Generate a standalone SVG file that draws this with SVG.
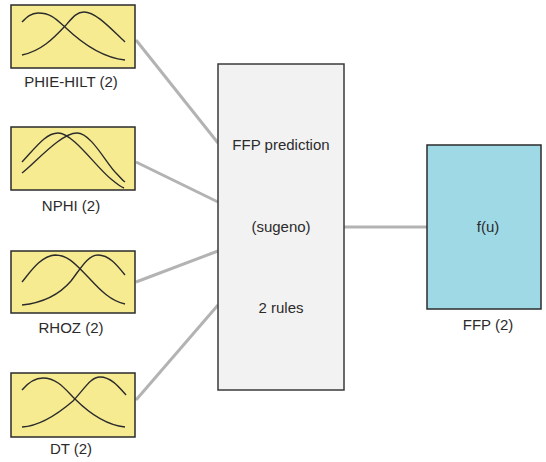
<svg xmlns="http://www.w3.org/2000/svg" width="546" height="462" viewBox="0 0 546 462">
<style>
.in{fill:#f7eb92;stroke:#2b2b2b;stroke-width:1.5}
.mf{fill:none;stroke:#2b2b2b;stroke-width:1.4}
.t{font-family:"Liberation Sans",Arial,sans-serif;font-size:15px;fill:#2b2b2b;text-anchor:middle}
.cn{stroke:#b3b3b3;stroke-width:3;fill:none}
</style>
<rect width="546" height="462" fill="#ffffff"/>
<g id="connectors">
<line class="cn" x1="136" y1="40" x2="218" y2="143"/>
<line class="cn" x1="136" y1="162" x2="218" y2="202"/>
<line class="cn" x1="136" y1="282" x2="218" y2="251"/>
<line class="cn" x1="136" y1="400" x2="218" y2="305"/>
<line class="cn" x1="344" y1="227" x2="427" y2="227"/>
</g>
<g id="phie-hilt" transform="translate(11,5)">
<rect class="in" x="0" y="0" width="124" height="63"/>
<path class="mf" d="M11 17 C16 12 20 8 27 8 C40 8 45 14 55 23 C75 42 95 53 114 55"/>
<path class="mf" d="M11 50 C30 46 42 34 55 20 C62 12 66 7 73 7 C85 7 100 24 114 37"/>
<text class="t" x="60" y="82">PHIE-HILT (2)</text>
</g>
<g id="nphi" transform="translate(11,127)">
<rect class="in" x="0" y="0" width="124" height="63"/>
<path class="mf" d="M11 35 C25 20 35 6 47 6 C62 6 85 40 100 52 C106 57 110 60 113 61"/>
<path class="mf" d="M11 46 C25 35 50 6 66 6 C80 6 95 36 105 46 C109 50 111 53 114 55"/>
<text class="t" x="60" y="84">NPHI (2)</text>
</g>
<g id="rhoz" transform="translate(11,251)">
<rect class="in" x="0" y="0" width="124" height="62"/>
<path class="mf" d="M11 31 C20 20 30 5 44 4 C58 4 66 15 78 27 C90 40 100 50 114 53"/>
<path class="mf" d="M11 54 C30 52 48 44 60 30 C70 17 77 4 87 4 C98 4 106 14 114 24"/>
<text class="t" x="60" y="82">RHOZ (2)</text>
</g>
<g id="dt" transform="translate(11,373)">
<rect class="in" x="0" y="0" width="124" height="64"/>
<path class="mf" d="M11 17 C16 11 22 5 32 5 C46 5 54 16 64 26 C78 40 95 52 114 54"/>
<path class="mf" d="M11 54 C30 53 48 40 62 28 C74 15 80 4 89 4 C100 4 108 14 115 22"/>
<text class="t" x="60" y="81">DT (2)</text>
</g>
<g id="fis">
<rect x="218" y="64" width="126" height="326" fill="#f2f2f2" stroke="#3a3a3a" stroke-width="1.5"/>
<text class="t" x="281" y="150">FFP prediction</text>
<text class="t" x="281" y="232">(sugeno)</text>
<text class="t" x="281" y="313">2 rules</text>
</g>
<g id="ffp">
<rect x="427" y="145" width="114" height="164" fill="#9fd9e6" stroke="#2b2b2b" stroke-width="1.5"/>
<text class="t" x="488" y="232">f(u)</text>
<text class="t" x="488" y="330">FFP (2)</text>
</g>
</svg>
